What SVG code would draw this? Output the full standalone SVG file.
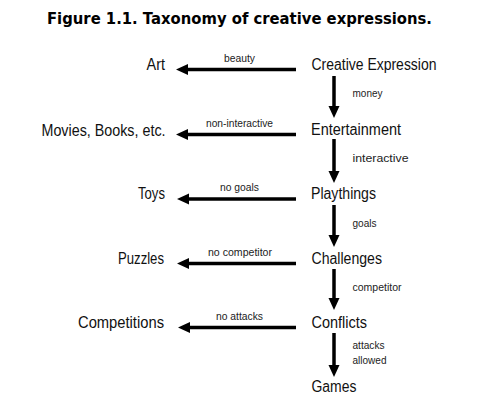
<svg xmlns="http://www.w3.org/2000/svg" width="484" height="409" viewBox="0 0 484 409">
<style>
.title{font-family:"DejaVu Sans",Verdana,sans-serif;font-weight:bold;font-size:15px;fill:#000}
.node{font-family:"Liberation Sans",Arial,sans-serif;font-size:16px;fill:#111}
.left{text-anchor:end}
.lbl{font-family:"Liberation Sans",Arial,sans-serif;font-size:11px;fill:#222}
.edge{stroke:#000;stroke-width:3.5;fill:none;marker-end:url(#ah)}
</style>
<defs>
<marker id="ah" markerUnits="userSpaceOnUse" markerWidth="13" markerHeight="12" refX="2" refY="5.5" orient="auto">
<path d="M0,0 L12,5.5 L0,11 z" fill="#000"/>
</marker>
</defs>
<rect width="484" height="409" fill="#fff"/>
<text class="title" x="239.5" y="24" text-anchor="middle" textLength="385" lengthAdjust="spacingAndGlyphs">Figure 1.1. Taxonomy of creative expressions.</text>
<g id="connectors">
<line class="edge" x1="296" y1="69.5" x2="186" y2="69.5"/>
<line class="edge" x1="296" y1="134.5" x2="186" y2="134.5"/>
<line class="edge" x1="296" y1="199" x2="187" y2="199"/>
<line class="edge" x1="296" y1="263.5" x2="187" y2="263.5"/>
<line class="edge" x1="296" y1="327.5" x2="188" y2="327.5"/>
<line class="edge" x1="334" y1="76" x2="334" y2="108"/>
<line class="edge" x1="334" y1="139" x2="334" y2="173"/>
<line class="edge" x1="334" y1="205" x2="334" y2="237"/>
<line class="edge" x1="334" y1="269" x2="334" y2="300"/>
<line class="edge" x1="334" y1="333" x2="334" y2="367"/>
<text class="lbl" x="224" y="62" textLength="31" lengthAdjust="spacingAndGlyphs">beauty</text>
<text class="lbl" x="206" y="127" textLength="67" lengthAdjust="spacingAndGlyphs">non-interactive</text>
<text class="lbl" x="220" y="191" textLength="39" lengthAdjust="spacingAndGlyphs">no goals</text>
<text class="lbl" x="208" y="256" textLength="64" lengthAdjust="spacingAndGlyphs">no competitor</text>
<text class="lbl" x="216" y="319.5" textLength="47" lengthAdjust="spacingAndGlyphs">no attacks</text>
<text class="lbl" x="352.5" y="97" textLength="30" lengthAdjust="spacingAndGlyphs">money</text>
<text class="lbl" x="352.5" y="162" textLength="56" lengthAdjust="spacingAndGlyphs">interactive</text>
<text class="lbl" x="352.5" y="227" textLength="24" lengthAdjust="spacingAndGlyphs">goals</text>
<text class="lbl" x="352.5" y="291" textLength="49" lengthAdjust="spacingAndGlyphs">competitor</text>
<text class="lbl" x="352.5" y="349" textLength="32" lengthAdjust="spacingAndGlyphs">attacks</text>
<text class="lbl" x="352.5" y="363.5" textLength="34" lengthAdjust="spacingAndGlyphs">allowed</text>
</g>
<g id="creative-expression"><text class="node" x="311.5" y="70" textLength="125" lengthAdjust="spacingAndGlyphs">Creative Expression</text></g>
<g id="entertainment"><text class="node" x="311" y="135" textLength="90" lengthAdjust="spacingAndGlyphs">Entertainment</text></g>
<g id="playthings"><text class="node" x="311" y="198.5" textLength="65" lengthAdjust="spacingAndGlyphs">Playthings</text></g>
<g id="challenges"><text class="node" x="311.5" y="263.5" textLength="70.5" lengthAdjust="spacingAndGlyphs">Challenges</text></g>
<g id="conflicts"><text class="node" x="311.5" y="328" textLength="55.5" lengthAdjust="spacingAndGlyphs">Conflicts</text></g>
<g id="games"><text class="node" x="311.5" y="392" textLength="45" lengthAdjust="spacingAndGlyphs">Games</text></g>
<g id="art"><text class="node left" x="165" y="70" textLength="18.5" lengthAdjust="spacingAndGlyphs">Art</text></g>
<g id="movies"><text class="node left" x="165.5" y="136" textLength="124" lengthAdjust="spacingAndGlyphs">Movies, Books, etc.</text></g>
<g id="toys"><text class="node left" x="165" y="198.5" textLength="27" lengthAdjust="spacingAndGlyphs">Toys</text></g>
<g id="puzzles"><text class="node left" x="164" y="263.5" textLength="46" lengthAdjust="spacingAndGlyphs">Puzzles</text></g>
<g id="competitions"><text class="node left" x="164" y="328" textLength="86" lengthAdjust="spacingAndGlyphs">Competitions</text></g>
</svg>
